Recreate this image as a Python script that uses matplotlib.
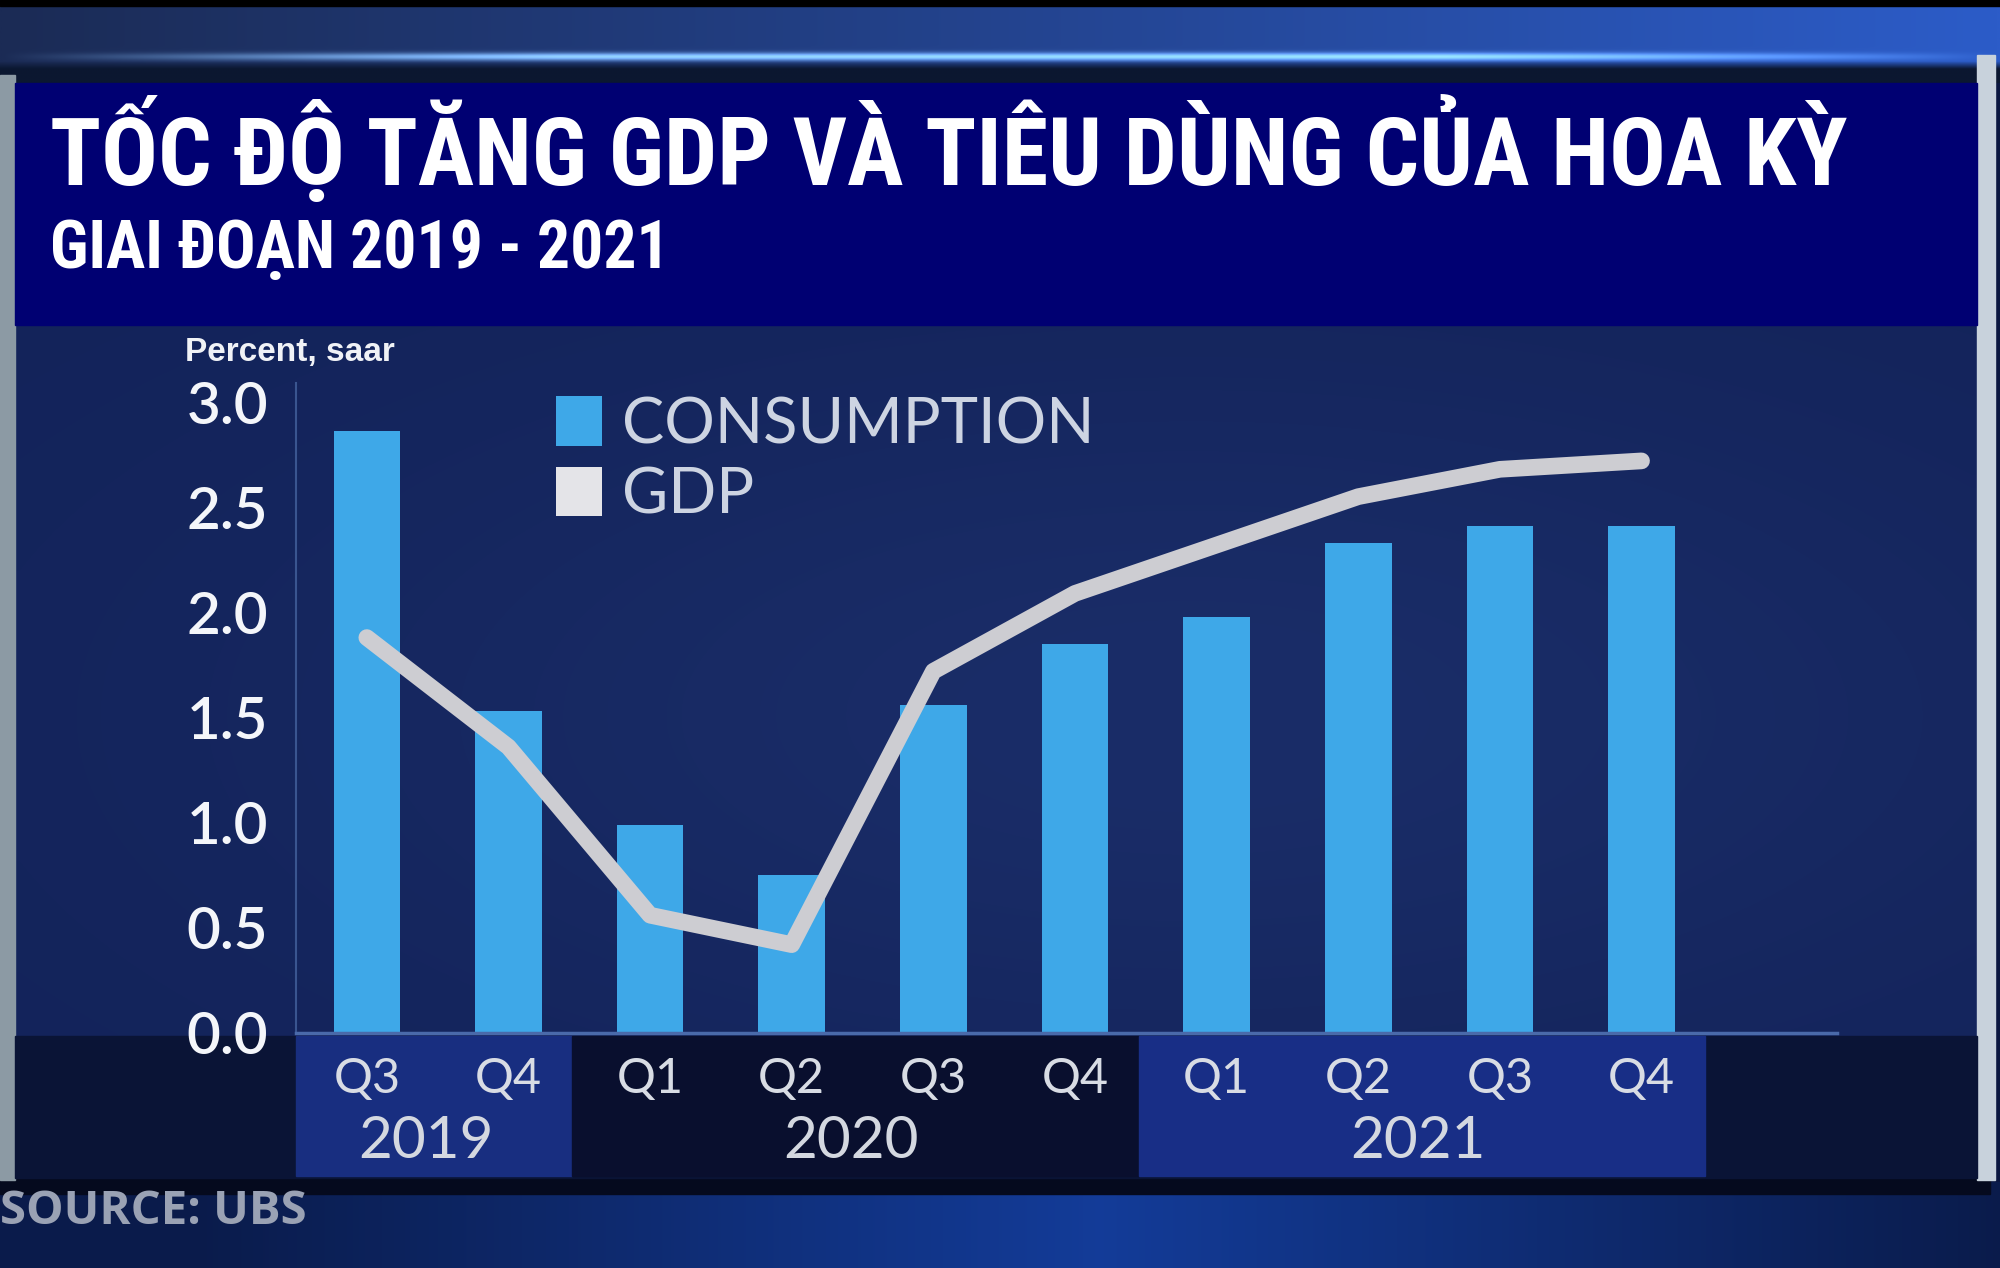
import numpy as np
import matplotlib
matplotlib.use("Agg")
import matplotlib.pyplot as plt
from matplotlib.patches import Rectangle, Patch
import matplotlib.transforms as mtransforms
from matplotlib import font_manager
from matplotlib.font_manager import FontProperties
import os

# ---------------- data ----------------
title = "TỐC ĐỘ TĂNG GDP VÀ TIÊU DÙNG CỦA HOA KỲ"
subtitle = "GIAI ĐOẠN 2019 - 2021"
unit_label = "Percent, saar"
source_text = "SOURCE: UBS"
quarters = ["Q3", "Q4", "Q1", "Q2", "Q3", "Q4", "Q1", "Q2", "Q3", "Q4"]
years = ["2019", "2020", "2021"]
year_first = [0, 2, 6]
year_last = [1, 5, 9]
consumption = [2.86, 1.53, 0.99, 0.75, 1.56, 1.85, 1.98, 2.33, 2.41, 2.41]
gdp = [1.88, 1.36, 0.56, 0.42, 1.72, 2.09, 2.32, 2.55, 2.68, 2.72]
yticks = [0.0, 0.5, 1.0, 1.5, 2.0, 2.5, 3.0]
series_names = ["CONSUMPTION", "GDP"]

# ---------------- fonts ----------------
SANS = ["Lato", "DejaVu Sans"]
cond_file = None
files = font_manager.findSystemFonts()
prefs = ["OpenSansCondensed-Bold", "OpenSans_Condensed-Bold", "RobotoCondensed-Bold",
         "LiberationSansNarrow-Bold.", "DejaVuSansCondensed-Bold."]
for p in prefs:
    for f in files:
        if p.lower() in os.path.basename(f).lower():
            cond_file = f
            break
    if cond_file:
        break
if cond_file:
    title_fp = FontProperties(fname=cond_file)
else:
    title_fp = FontProperties(family=["Liberation Sans", "DejaVu Sans"], weight="bold")

W, H = 2000, 1268
fig = plt.figure(figsize=(20, 12.68), dpi=100)
fig.patch.set_facecolor("#0a1640")
renderer = fig.canvas.get_renderer()

# ---------------- background (pixel coords) ----------------
bg = fig.add_axes([0, 0, 1, 1], zorder=-10)
bg.set_xlim(0, W)
bg.set_ylim(H, 0)
bg.axis("off")

def hex2rgb(h):
    h = h.lstrip("#")
    return np.array([int(h[i:i + 2], 16) / 255 for i in (0, 2, 4)])

# studio top strip
xs = np.linspace(0, 1, 400)
ys = np.linspace(0, 1, 80)
X, Y = np.meshgrid(xs, ys)
c1, c2 = hex2rgb("#1b2b55"), hex2rgb("#2c5cc8")
top = c1[None, None, :] * (1 - X[..., None]) + c2[None, None, :] * X[..., None]
streak = np.exp(-((Y - 0.66) / 0.05) ** 2) * np.clip(np.sin(np.pi * X) * 1.3, 0, 1)
top = top + streak[..., None] * np.array([0.45, 0.6, 0.65])[None, None, :]
dark = np.clip((Y - 0.72) / 0.1, 0, 1)
top = top * (1 - dark[..., None]) + hex2rgb("#0b1730")[None, None, :] * dark[..., None]
bg.imshow(np.clip(top, 0, 1), extent=(0, W, 83, 6), aspect="auto", interpolation="bilinear")
bg.add_patch(Rectangle((0, 0), W, 6, color="black"))

# studio bottom strip
xs = np.linspace(0, 1, 400)
ys = np.linspace(0, 1, 40)
X, Y = np.meshgrid(xs, ys)
b1, b2, b3 = hex2rgb("#0a1848"), hex2rgb("#1540a8"), hex2rgb("#0c2a5a")
wl = np.clip(1 - np.abs(X - 0.55) / 0.45, 0, 1)
bot = b1[None, None, :] * (1 - wl[..., None]) + b2[None, None, :] * wl[..., None]
bot = bot * 0.8 + b3[None, None, :] * 0.2
bg.imshow(np.clip(bot, 0, 1), extent=(0, W, H, 1182), aspect="auto", interpolation="bilinear")
bg.add_patch(Rectangle((0, 1176), 1990, 18, color="#050a1e"))

# side strips
bg.add_patch(Rectangle((0, 75), 15, 1105, color="#8c9aa4"))
bg.add_patch(Rectangle((1977, 55), 18, 1125, color="#c8d2dc"))

# chart panel
ys = np.linspace(0, 1, 200)
xs = np.linspace(0, 1, 200)
X, Y = np.meshgrid(xs, ys)
p1, p2 = hex2rgb("#13235a"), hex2rgb("#1a2d68")
glow = np.exp(-(((X - 0.6) / 0.45) ** 2 + ((Y - 0.55) / 0.5) ** 2))
panel = p1[None, None, :] * (1 - glow[..., None]) + p2[None, None, :] * glow[..., None]
bg.imshow(panel, extent=(15, 1977, 1036, 325), aspect="auto", interpolation="bilinear")
bg.add_patch(Rectangle((15, 1036), 1962, 142, color="#0a1436"))

# title band
bg.add_patch(Rectangle((15, 83), 1962, 242, color="#000072"))

def fitted_text(xp, yp, s, width_px, size0, fp):
    t = bg.text(xp, yp, s, color="white", fontproperties=fp.copy(), va="baseline", ha="left")
    t.set_fontsize(size0)
    w = t.get_window_extent(renderer).width
    t.set_fontsize(size0 * width_px / w)
    return t

fitted_text(50, 185, title, 1800, 60, title_fp)
fitted_text(50, 268, subtitle, 620, 40, title_fp)

bg.text(185, 352, unit_label, color="#f0f2f6", fontsize=24, fontweight="bold",
        family=["Liberation Sans", "DejaVu Sans"], va="center", ha="left")
bg.text(0, 1212, source_text, color="#9aa2b4", fontsize=34, fontweight="bold",
        family=["Open Sans", "DejaVu Sans"], va="center", ha="left")

# ---------------- chart ----------------
left, right = 296 / W, 1837 / W
bottom = 1 - 1033 / H
topy = 1 - 383 / H
ax = fig.add_axes([left, bottom, right - left, topy - bottom])
ax.set_facecolor("none")
x = np.arange(len(quarters))
ax.set_xlim(-0.5, 10.38)
ax.set_ylim(0, 3.0 * (1033 - 383) / (1033 - 402))

ax.bar(x, consumption, width=0.47, color="#3ea8e8", zorder=2)
ax.plot(x, gdp, color="#cdcdd2", lw=12, solid_capstyle="round",
        solid_joinstyle="round", zorder=3)

for s in ["top", "right"]:
    ax.spines[s].set_visible(False)
ax.spines["left"].set_color("#3a5590")
ax.spines["left"].set_linewidth(1.5)
ax.spines["bottom"].set_color("#4a6aaa")
ax.spines["bottom"].set_linewidth(2.5)

ax.set_yticks(yticks, labels=[f"{v:.1f}" for v in yticks])
ax.tick_params(axis="y", length=0, pad=20, labelsize=42, labelcolor="#f4f6fa")
for lab in ax.get_yticklabels():
    lab.set_family(SANS)
    lab.set_fontweight("semibold")
ax.set_xticks([])

# category bands
trans = mtransforms.blended_transform_factory(ax.transData, ax.transAxes)
band_colors = ["#182e80", "#090f2e", "#182e86"]
band_bottom = (1033 - 1176) / (1033 - 383)
band_top = -3 / (1033 - 383)
for i, (yr, a, b) in enumerate(zip(years, year_first, year_last)):
    l = max(a - 0.55, -0.5)
    r = b + 0.45
    ax.add_patch(Rectangle((l, band_bottom), r - l, band_top - band_bottom,
                           transform=trans, color=band_colors[i], clip_on=False, zorder=1))
    ax.text((a + b) / 2 - 0.08, (1033 - 1141) / (1033 - 383), yr, transform=trans,
            ha="center", va="center", fontsize=42, color="#d4d8e0", family=SANS, zorder=4)
for xi, q in zip(x, quarters):
    ax.text(xi, (1033 - 1079) / (1033 - 383), q, transform=trans,
            ha="center", va="center", fontsize=35, color="#d8dce4", family=SANS, zorder=4)

# legend
handles = [Patch(facecolor="#3ea8e8", edgecolor="none"),
           Patch(facecolor="#e4e4e8", edgecolor="none")]
leg = fig.legend(handles, series_names, loc="upper left",
                 bbox_to_anchor=(556 / W, 1 - 396 / H), frameon=False,
                 prop={"family": SANS, "size": 45.5, "weight": "normal"},
                 handlelength=0.72, handleheight=0.82, handletextpad=0.32,
                 labelspacing=0.2, borderaxespad=0, borderpad=0)
for t in leg.get_texts():
    t.set_color("#cdd4e2")

fig.savefig("out.png", dpi=100, facecolor=fig.get_facecolor())
